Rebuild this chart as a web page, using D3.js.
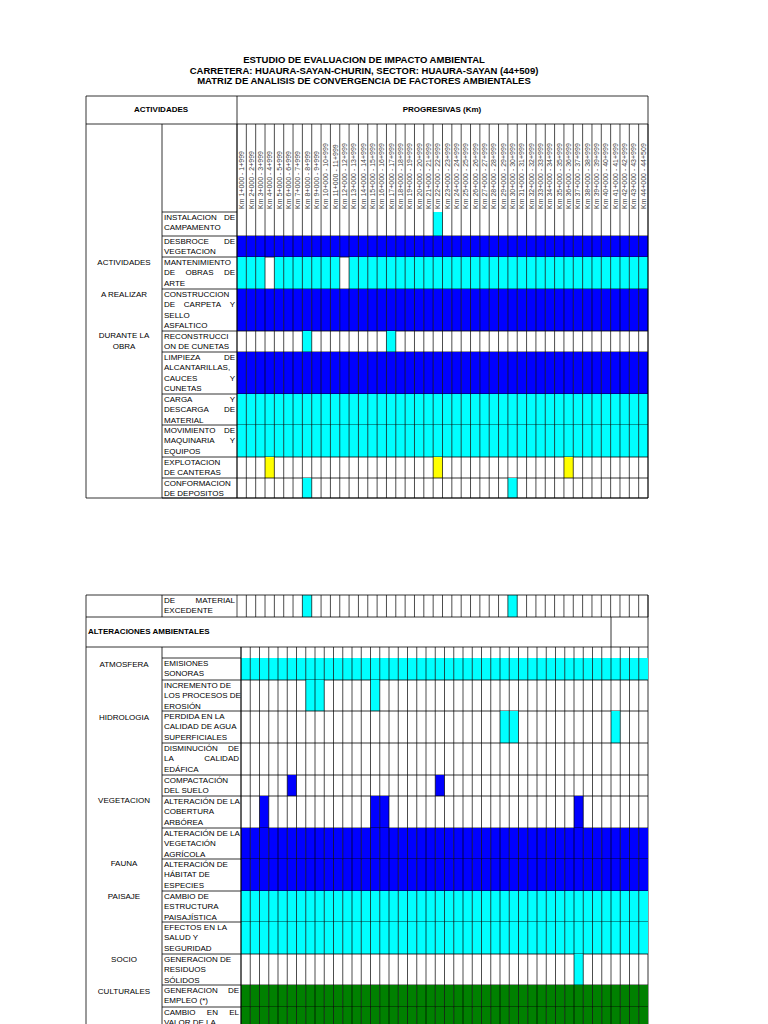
<!DOCTYPE html>
<html><head><meta charset="utf-8">
<script src="https://cdn.jsdelivr.net/npm/d3@7"></script>
<style>body{margin:0;background:#fff}text{font-family:"Liberation Sans",Arial,sans-serif}</style>
</head><body><svg id="c" width="768" height="1024"></svg>
<script>
// progresivas
var kms = d3.range(1, 45).map(function(k) {
	return "Km " + k + "+000 - " + k + (k == 44 ? "+509" : "+999");
});
var titles = ["ESTUDIO DE EVALUACION DE IMPACTO AMBIENTAL",
	"CARRETERA: HUAURA-SAYAN-CHURIN, SECTOR: HUAURA-SAYAN (44+509)",
	"MATRIZ DE ANALISIS DE CONVERGENCIA DE FACTORES AMBIENTALES"];

// actividades: name lines, colour, "all" = whole row filled except listed cells, otherwise only listed cells
var topNames = [
	["INSTALACION DE", "CAMPAMENTO"], ["DESBROCE DE", "VEGETACION"],
	["MANTENIMIENTO", "DE OBRAS DE", "ARTE"], ["CONSTRUCCION", "DE CARPETA Y", "SELLO", "ASFALTICO"],
	["RECONSTRUCCI", "ON DE CUNETAS"], ["LIMPIEZA DE", "ALCANTARILLAS,", "CAUCES Y", "CUNETAS"],
	["CARGA Y", "DESCARGA DE", "MATERIAL"], ["MOVIMIENTO DE", "MAQUINARIA Y", "EQUIPOS"],
	["EXPLOTACION", "DE CANTERAS"], ["CONFORMACION", "DE DEPOSITOS"]];
var topColor = ["cyan", "blue", "cyan", "blue", "cyan", "blue", "cyan", "cyan", "yellow", "cyan"];
var topAll = [false, true, true, true, false, true, true, true, false, false];
var topCells = [[21], [], [3, 11], [], [7, 16], [], [], [], [3, 21, 35], [7, 29]];
var topGroups = [["ACTIVIDADES", 262], ["A REALIZAR", 294], ["DURANTE LA", 335], ["OBRA", 346]];

var botNames = [
	["EMISIONES", "SONORAS"], ["INCREMENTO DE", "LOS PROCESOS DE", "EROSIÓN"],
	["PERDIDA EN LA", "CALIDAD DE AGUA", "SUPERFICIALES"], ["DISMINUCIÓN DE", "LA CALIDAD", "EDÁFICA"],
	["COMPACTACIÓN", "DEL SUELO"], ["ALTERACIÓN DE LA", "COBERTURA", "ARBÓREA"],
	["ALTERACIÓN DE LA", "VEGETACIÓN", "AGRÍCOLA"], ["ALTERACIÓN DE", "HÁBITAT DE", "ESPECIES"],
	["CAMBIO DE", "ESTRUCTURA", "PAISAJÍSTICA"], ["EFECTOS EN LA", "SALUD Y", "SEGURIDAD"],
	["GENERACION DE", "RESIDUOS", "SÓLIDOS"], ["GENERACION DE", "EMPLEO (*)"], ["CAMBIO EN EL", "VALOR DE LA"]];
var botColor = ["cyan", "cyan", "cyan", "cyan", "blue", "blue", "blue", "blue", "cyan", "cyan", "cyan", "green", "green"];
var botAll = [true, false, false, false, false, false, true, true, true, true, false, true, true];
var botCells = [[], [7, 8, 14], [28, 29, 40], [], [5, 21], [2, 14, 15, 36], [], [], [], [], [36], [], []];
var botJust = [false, false, false, true, false, false, false, false, false, false, false, true, true];
var botGroups = [["ATMOSFERA", 664], ["HIDROLOGIA", 717], ["VEGETACION", 800], ["FAUNA", 863],
	["PAISAJE", 896], ["SOCIO", 959], ["CULTURALES", 991]];
var firstCells = [7, 29];

var palette = {cyan: "#00ffff", blue: "#0000ff", yellow: "#ffff00", green: "#008000"};
var svg = d3.select("#c");

svg.selectAll(".title").data(titles).enter().append("text")
	.attr("x", 364).attr("y", function(d, i) { return 63 + i * 10.5; })
	.attr("text-anchor", "middle").style("font-size", "9.5px").style("font-weight", "bold").text(function(d) { return d; });

function line(x1, y1, x2, y2, w) {
	svg.append("line").attr("x1", x1).attr("y1", y1).attr("x2", x2).attr("y2", y2)
		.attr("stroke", "#000").attr("stroke-width", w || 0.8);
}

function nameText(lines, x0, x1, y0, justify) {
	lines.forEach(function(l, i) {
		var y = y0 + 7.5 + i * 10.5;
		var words = l.split(" ");
		if (justify && i < lines.length - 1 && words.length > 1) {
			var t = svg.append("text").attr("y", y).style("font-size", "8px");
			var widths = words.map(function(w) { return t.text(w).node().getComputedTextLength(); });
			t.remove();
			var gap = (x1 - x0 - 4 - d3.sum(widths)) / (words.length - 1), cx = x0 + 2;
			words.forEach(function(w, k) {
				svg.append("text").attr("x", cx).attr("y", y).style("font-size", "8px").text(w);
				cx += widths[k] + gap;
			});
		} else {
			svg.append("text").attr("x", x0 + 2).attr("y", y).style("font-size", "8px").text(l);
		}
	});
}

function drawRows(names, colors, all, cells, just, rowY, x, xName) {
	names.forEach(function(n, r) {
		var y0 = rowY[r], y1 = rowY[r + 1];
		var idx = all[r] ? d3.range(kms.length).filter(function(i) { return cells[r].indexOf(i) < 0; }) : cells[r];
		svg.selectAll(null).data(idx).enter().append("rect")
			.attr("x", function(d) { return x(kms[d]); }).attr("width", x.bandwidth())
			.attr("y", y0).attr("height", y1 - y0).attr("fill", palette[colors[r]]);
		nameText(n, xName, x.range()[0], y0, just[r]);
		line(xName, y1, x.range()[1], y1);
	});
}

// ---- top table
var xt = d3.scaleBand().domain(kms).range([237, 648]);
var topY = [212, 236, 257, 289, 331, 352, 394, 425, 457, 478, 498];
drawRows(topNames, topColor, topAll, topCells, topNames.map(function() { return true; }), topY, xt, 162);
svg.selectAll(".kl").data(kms).enter().append("text")
	.attr("transform", function(d) { return "translate(" + (xt(d) + xt.bandwidth() / 2 + 2.5) + ",209) rotate(-90)"; })
	.style("font-size", "7px").attr("fill", "#444").text(function(d) { return d; });
kms.concat([null]).forEach(function(d) {
	var xx = d ? xt(d) : 648; line(xx, 124, xx, 498, 0.7);
});
line(86, 96, 648, 96); line(86, 124, 648, 124); line(162, 212, 237, 212); line(86, 498, 648, 498);
line(86, 96, 86, 498); line(162, 124, 162, 498); line(237, 96, 237, 498); line(648, 96, 648, 498);
svg.append("text").attr("x", 161).attr("y", 112).attr("text-anchor", "middle").style("font-size", "8px").style("font-weight", "bold").text("ACTIVIDADES");
svg.append("text").attr("x", 442).attr("y", 112).attr("text-anchor", "middle").style("font-size", "8px").style("font-weight", "bold").text("PROGRESIVAS (Km)");
topGroups.forEach(function(g) {
	svg.append("text").attr("x", 124).attr("y", g[1] + 3).attr("text-anchor", "middle").style("font-size", "8px").text(g[0]);
});

// ---- bottom table
var xb = d3.scaleBand().domain(kms).range([241, 648]);
svg.selectAll(null).data(firstCells).enter().append("rect")
	.attr("x", function(d) { return xt(kms[d]); }).attr("width", xt.bandwidth())
	.attr("y", 595).attr("height", 22).attr("fill", palette.cyan);
kms.concat([null]).forEach(function(d) {
	var xx = d ? xt(d) : 648; line(xx, 595, xx, 617, 0.7);
});
nameText(["DE MATERIAL", "EXCEDENTE"], 162, 237, 595, true);
line(86, 595, 648, 595); line(86, 617, 648, 617); line(86, 647, 648, 647);
line(86, 595, 86, 1024); line(162, 595, 162, 617); line(648, 595, 648, 1024); line(611, 617, 611, 647);
svg.append("text").attr("x", 88).attr("y", 634).style("font-size", "8px").style("font-weight", "bold").text("ALTERACIONES AMBIENTALES");

var botY = [658, 680, 711, 743, 775, 796, 828, 859, 891, 922, 954, 985, 1007, 1039];
drawRows(botNames, botColor, botAll, botCells, botJust, botY, xb, 162);
line(162, 658, 241, 658);
kms.forEach(function(d) { line(xb(d), 647, xb(d), 1024, 0.7); });
line(162, 647, 162, 1024); line(241, 647, 241, 1024);
botGroups.forEach(function(g) {
	svg.append("text").attr("x", 124).attr("y", g[1] + 3).attr("text-anchor", "middle").style("font-size", "8px").text(g[0]);
});
</script></body></html>
